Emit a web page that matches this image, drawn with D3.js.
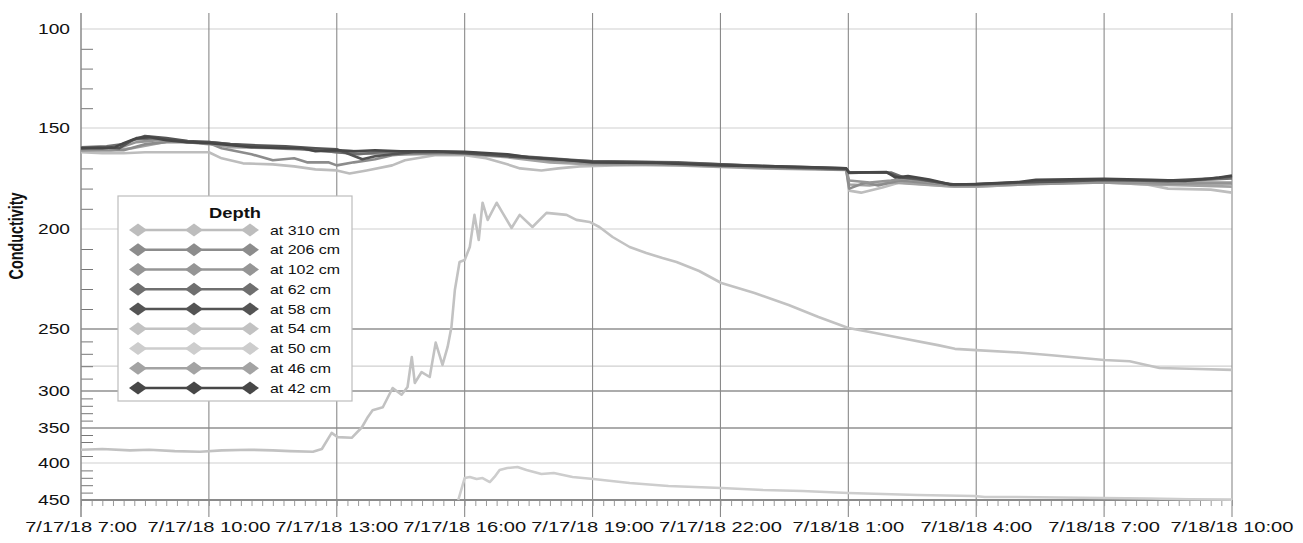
<!DOCTYPE html>
<html><head><meta charset="utf-8">
<script src="https://cdn.jsdelivr.net/npm/d3@7"></script>
<style>body{margin:0;background:#fff}svg{display:block}text{font-family:"Liberation Sans",Arial,sans-serif;fill:#111}</style>
</head><body><svg id="c" width="1303" height="543"></svg>
<script>
// ---------- data ----------
const startTime = new Date(2018, 6, 17, 7, 0);
const endTime = new Date(2018, 6, 18, 10, 0);
const xTickHours = [0, 3, 6, 9, 12, 15, 18, 21, 24, 27];
const yTickValues = [100, 150, 200, 250, 300, 350, 400, 450];
const yTickPositions = [29, 128, 229, 329, 391, 428, 463, 500]; // uneven axis of the original
const yDarkGrid = [250, 300, 350];
const yLightGrid = [100, 150, 200, 280, 400];
const legendTitle = "Depth";
const seriesNames = ["at 310 cm", "at 206 cm", "at 102 cm", "at 62 cm", "at 58 cm", "at 54 cm", "at 50 cm", "at 46 cm", "at 42 cm"];
const seriesColors = ["#bdbdbd", "#8c8c8c", "#959595", "#6f6f6f", "#545454", "#c2c2c2", "#cdcdcd", "#a3a3a3", "#474747"];

// hours after 7/17/18 7:00, conductivity
const hours310 = [0,0.5,1.0,1.5,2.5,3.0,3.3,3.8,4.5,5.0,5.5,6.0,6.3,6.7,7.3,7.6,8.3,9.0,9.5,10.0,10.3,10.8,11.2,11.7,12.5,13.5,15,16.5,17.95,18.02,18.3,18.8,19.2,20.5,21,22,24,25,25.5,26.5,27];
const cond310  = [162,162.5,162.5,162,162,162,165,167.5,168,169,170.5,171,172.5,171,168.5,166,163.5,163.5,165,168,170,171,170,169,168.5,168,169,170,170.5,181,182,179.5,177,179,179,178,177,178,180,180.5,182];
const hours206 = [0,1.0,1.5,2.0,2.5,3.0,3.3,4.0,4.5,5.0,5.3,5.8,6.0,6.4,6.9,7.3,7.6,8.3,9.0,10.0,11,12,14,16,17.95,18.02,18.4,18.7,19.2,20.5,21,22,24,25.5,26.5,27];
const cond206  = [161,161,158,157,157,157.5,160,163,166,165,167,167,168.5,167,165.5,163.5,163,162.5,162.5,163.5,166,167,168,169.5,170.5,180,177,178.5,176,178.5,178,178,176.5,177.5,177.5,177.5];
const hours102 = [0,0.8,1.3,1.8,2.5,3.0,4.0,5.0,6.0,7.0,8.0,9.0,10,11,12,14,16,17.95,18.02,18.5,19.0,19.3,20.5,21,22,24,26,27];
const cond102  = [160.5,160.5,157,156,157,158,159,160,161,162,162,162.5,164,166,167.5,168,169.5,170.5,176,177,176,175,178.5,178.5,177.5,177,177,177];
const hours62  = [0,0.6,1.0,1.3,1.8,2.5,3.0,4.0,5.0,5.5,6.0,6.5,7.0,8.0,9.0,10.0,11.0,12.0,14.0,15.0,16.5,17.95,18.02,19.0,19.3,20.5,21.0,22.0,24.0,25.5,27.0];
const cond62   = [159.5,159,158,155.5,155,157,157,159,160,161,162,163,162,161.5,162,163.5,165,166.5,167,168,169.5,170.5,172,172,174.5,178,177.7,177,175.5,176.5,175];
const hours58  = [0,0.4,0.9,1.2,1.5,2.0,2.5,3.0,3.5,4.0,4.8,5.5,6.0,6.3,6.6,6.9,7.3,7.8,8.5,9.0,10.0,11.0,12.0,13.5,15.0,16.3,17.95,18.02,18.5,18.9,19.2,19.6,20.4,21.0,22.0,23.0,24.0,25.0,25.5,26.5,27.0];
const cond58   = [160,159.5,160,156,154,155,156.5,157,158,158.5,159,160,160.5,163,165.5,164,163,162,162,162.5,164,165.5,166.5,167,168,169,170,172.3,172,172,174.5,175,178,178,177,176.5,175.7,176,176,175,174];
const hours54  = [0,0.5,1.15,1.6,2.2,2.79,3.3,3.96,4.5,4.9,5.44,5.65,5.88,6.02,6.35,6.59,6.73,6.84,7.08,7.31,7.52,7.66,7.76,7.83,7.99,8.18,8.32,8.48,8.6,8.69,8.77,8.88,9.0,9.12,9.23,9.33,9.42,9.54,9.75,9.89,10.1,10.29,10.59,10.92,11.39,11.62,11.93,12.16,12.47,12.87,13.26,13.64,13.97,14.5,15.02,15.8,16.6,17.3,18.0,18.6,19.2,20.1,20.5,21.0,22.0,22.7,24.0,24.6,25.3,26.0,27.0];
const cond54   = [381,380,382,381,383,384,382,381,382,383,384,380,357,363,364,349,335,326,322,297.6,305,296.8,272.6,293.5,284.7,288.7,261,279,264.5,249,230.5,216.5,215.5,209,193,205.5,187,195.5,187,192,199.5,193,199,192,193,195.5,196.5,199,204,209,212,214.5,216.5,221,227,232,238,244,249.5,253,257,263,266,267,269,271,275,276,281.5,282,283];
const hours50  = [8.85,9.0,9.12,9.28,9.42,9.59,9.7,9.82,10.0,10.24,10.45,10.8,11.09,11.53,12.02,12.87,13.78,15.02,16.0,16.92,18.0,19.62,20.95,21.2,21.94,24.0,25.05,26.0,27.0];
const cond50   = [450,420.3,418.9,421.6,420.3,425.7,418.9,409.5,406.8,405.4,409.5,414.9,413.5,418.9,421.6,427,431,433.8,436.5,437.8,440.5,443.2,444.6,446,446,447.3,448,449,449.5];
const hours46  = [0,0.7,1.2,1.7,2.2,2.7,3.0,3.5,4.5,5.5,6.0,7.0,8.0,9.0,10,11,12,14,16,17.95,18.02,18.5,19.0,20.5,21,22,24,25,26,27];
const cond46   = [161,161,160,158,156,157,157.5,159.5,160,161,162,163,163,163,164.5,167,168,168.5,170,170.8,178,178.5,177,179,179,178,177,178,178.5,179];
const hours42  = [0,0.5,0.8,1.0,1.3,1.6,2.0,2.5,3.0,3.3,4.0,4.8,5.2,5.5,6.0,6.4,6.9,7.5,8.3,9.0,9.6,10.0,10.5,11.2,12.0,13.5,15.0,16.3,17.2,17.95,18.02,18.9,19.1,19.4,19.9,20.4,21.0,22.0,22.4,24.0,25.1,25.9,26.7,27.0];
const cond42   = [160,160,159.5,157.5,155,154.5,156,157,157.5,158,159.5,160,160,161.5,161,161.5,161,161.5,161.5,161.8,162.5,163,164.5,165.5,167,167.3,168.5,169,169.5,170,172,171.8,174.5,173.8,175.5,178,177.7,176.7,175.7,175.2,175.7,176.2,174.5,173.5];

const seriesHours = [hours310, hours206, hours102, hours62, hours58, hours54, hours50, hours46, hours42];
const seriesCond  = [cond310, cond206, cond102, cond62, cond58, cond54, cond50, cond46, cond42];

// ---------- drawing ----------
(function () {
const svg = d3.select("#c");
const plotLeft = 81, plotRight = 1232, plotTop = 13, axisY = 500;
const toDate = h => new Date(startTime.getTime() + h * 3600e3);

const x = d3.scaleTime().domain([startTime, endTime]).range([plotLeft, plotRight]);
const y = d3.scaleLinear().domain(yTickValues).range(yTickPositions);

// horizontal grid
svg.append("g").selectAll("line").data(yLightGrid).join("line")
  .attr("x1", plotLeft).attr("x2", plotRight).attr("y1", d => y(d)).attr("y2", d => y(d))
  .attr("stroke", "#cfcfcf").attr("stroke-width", 1.2);
svg.append("g").selectAll("line").data(yDarkGrid).join("line")
  .attr("x1", plotLeft).attr("x2", plotRight).attr("y1", d => y(d)).attr("y2", d => y(d))
  .attr("stroke", "#5a5a5a").attr("stroke-width", 1.1);

// vertical grid + major ticks
const majorDates = xTickHours.map(toDate);
svg.append("g").selectAll("line").data(majorDates.slice(1)).join("line")
  .attr("x1", d => x(d)).attr("x2", d => x(d)).attr("y1", plotTop).attr("y2", 517)
  .attr("stroke", "#8a8a8a").attr("stroke-width", 1.1);

// minor x ticks every 15 min
const minorDates = d3.range(0, 27.01, 0.25).map(toDate);
const xMinor = svg.append("g").attr("transform", `translate(0,${axisY})`)
  .call(d3.axisBottom(x).tickValues(minorDates).tickSize(6).tickFormat(""));
xMinor.select(".domain").remove();
xMinor.selectAll("line").attr("stroke", "#9a9a9a");

// minor y ticks every 10
const yMinor = d3.range(110, 450, 10).filter(v => v % 50 !== 0);
const yMinorG = svg.append("g").attr("transform", `translate(${plotLeft},0)`)
  .call(d3.axisRight(y).tickValues(yMinor).tickSize(12).tickFormat(""));
yMinorG.select(".domain").remove();
yMinorG.selectAll("line").attr("stroke", "#777");

// axis lines
svg.append("line").attr("x1", plotLeft).attr("x2", plotRight).attr("y1", axisY).attr("y2", axisY)
  .attr("stroke", "#8a8a8a").attr("stroke-width", 2);
svg.append("line").attr("x1", plotLeft).attr("x2", plotLeft).attr("y1", plotTop).attr("y2", 517)
  .attr("stroke", "#8a8a8a").attr("stroke-width", 1.5);

// series lines
const line = d3.line().x(d => x(toDate(d[0]))).y(d => y(d[1]));
const drawOrder = [6, 5, 0, 7, 1, 2, 3, 4, 8];
drawOrder.forEach(i => {
  const pts = seriesHours[i].map((h, k) => [h, seriesCond[i][k]]);
  svg.append("path").datum(pts).attr("d", line)
    .attr("fill", "none").attr("stroke", seriesColors[i]).attr("stroke-width", 2.6)
    .attr("stroke-linejoin", "round");
});

// x labels (stretched horizontally like the original)
const fmt = d3.timeFormat("%-m/%-d/%y %-H:%M");
const xl = svg.append("g").selectAll("text").data(majorDates).join("text")
  .attr("text-anchor", "middle").attr("font-size", 15).text(fmt);
const refW = d3.max(xl.nodes(), n => n.getComputedTextLength());
const sx = 123 / refW;
xl.attr("transform", d => `translate(${x(d)},532) scale(${sx},1)`);

// y labels
const yl = svg.append("g").selectAll("text").data(yTickValues).join("text")
  .attr("text-anchor", "end").attr("dy", "0.36em").attr("font-size", 15).text(d => d);
const sy = 32 / d3.max(yl.nodes(), n => n.getComputedTextLength());
yl.attr("transform", d => `translate(70,${y(d)}) scale(${sy},1)`);

// y title
const yt = svg.append("text").attr("transform", "translate(23,236) rotate(-90) scale(1,1.3)")
  .attr("text-anchor", "middle").attr("font-size", 15).attr("font-weight", "bold")
  .text("Conductivity");
yt.attr("textLength", 87).attr("lengthAdjust", "spacingAndGlyphs");

// legend
const lg = svg.append("g");
lg.append("rect").attr("x", 118).attr("y", 196).attr("width", 234).attr("height", 205)
  .attr("fill", "#fff").attr("stroke", "#bdbdbd").attr("stroke-width", 1.2);
const lt = lg.append("text").attr("text-anchor", "middle").attr("font-size", 14)
  .attr("font-weight", "bold").text(legendTitle);
lt.attr("transform", `translate(235,218) scale(${52 / lt.node().getComputedTextLength()},1)`);
const diamond = "M0,-6.5L9,0L0,6.5L-9,0Z";
const legTexts = [];
seriesNames.forEach((name, i) => {
  const ry = 230 + i * 19.75;
  const g = lg.append("g").attr("transform", `translate(0,${ry})`);
  g.append("line").attr("x1", 138).attr("x2", 250).attr("stroke", seriesColors[i]).attr("stroke-width", 2.6);
  [138, 194, 250].forEach(cx => g.append("path").attr("d", diamond)
    .attr("transform", `translate(${cx},0)`).attr("fill", seriesColors[i]));
  legTexts.push(g.append("text").attr("font-size", 12).text(name));
});
const sl = 70 / legTexts[0].node().getComputedTextLength();
legTexts.forEach(t => t.attr("transform", `translate(270,4.5) scale(${sl},1)`));
})();
</script></body></html>
